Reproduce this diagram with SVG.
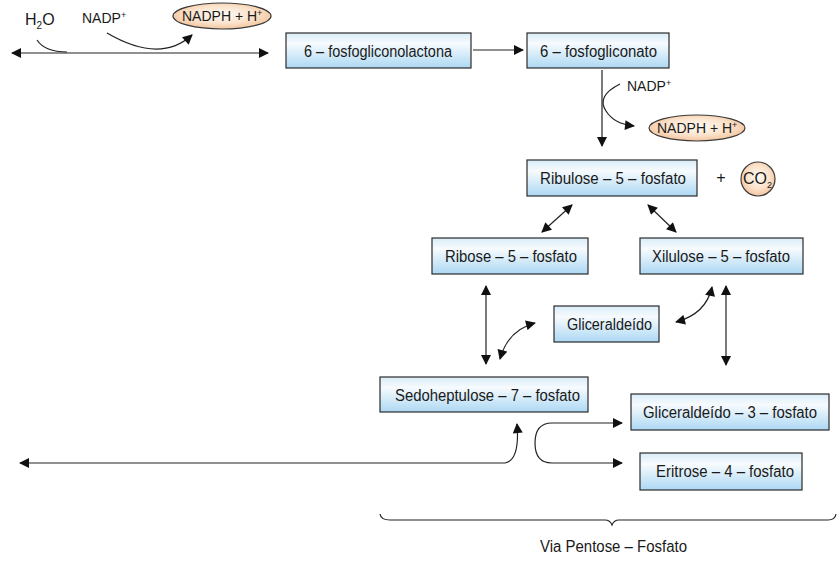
<svg xmlns="http://www.w3.org/2000/svg" width="840" height="563" viewBox="0 0 840 563">
  <style>
    text { font-family: "Liberation Sans", Arial, sans-serif; fill: #1a1a1a; font-size: 16px; }
    .lbl { text-anchor: middle; }
    .co { font-size: 14px; }
    .box { fill: url(#boxFill); stroke: #2b2b2b; stroke-width: 1.2; }
    .oval { fill: url(#ovalFill); stroke: #3a3a3a; stroke-width: 1.2; }
    .ln { fill: none; stroke: #222; stroke-width: 1.2; }
    .a2 { marker-end: url(#tip); }
    .a1 { marker-start: url(#tipS); }
  </style>
  <defs>
    <linearGradient id="boxFill" x1="0" y1="0" x2="0" y2="1">
      <stop offset="0" stop-color="#d9ecf8"/>
      <stop offset="0.3" stop-color="#f7fbfe"/>
      <stop offset="1" stop-color="#acd8f3"/>
    </linearGradient>
    <radialGradient id="ovalFill" cx="0.5" cy="0.45" r="0.6">
      <stop offset="0" stop-color="#fffaf4"/>
      <stop offset="0.55" stop-color="#fbe3cc"/>
      <stop offset="1" stop-color="#f1bf94"/>
    </radialGradient>
    <marker id="tip" viewBox="0 0 10 10" refX="9" refY="5" markerWidth="11" markerHeight="10" markerUnits="userSpaceOnUse" orient="auto">
      <path d="M0,0 L10,5 L0,10 Z" fill="#111"/>
    </marker>
    <marker id="tipS" viewBox="0 0 10 10" refX="1" refY="5" markerWidth="11" markerHeight="10" markerUnits="userSpaceOnUse" orient="auto">
      <path d="M10,0 L0,5 L10,10 Z" fill="#111"/>
    </marker>
  </defs>

  <!-- connectors -->
  <g id="connectors">
    <!-- oxidative entry -->
    <path class="ln a1 a2" d="M12,53 H268"/>
    <path class="ln" d="M37,40 Q45,52 67,52"/>
    <path class="ln a2" d="M107,33 Q160,64 192,35"/>
    <path class="ln a2" d="M473,50 H523"/>
    <!-- decarboxylation -->
    <path class="ln a2" d="M602,70 V146"/>
    <path class="ln a2" d="M620,84 Q596,96 606,111 Q614,124 634,126"/>
    <!-- isomerisations -->
    <path class="ln a1 a2" d="M572,205 L542,232"/>
    <path class="ln a1 a2" d="M648,205 L676,232"/>
    <path class="ln a1 a2" d="M486,286 V364"/>
    <path class="ln a1 a2" d="M726,286 V365"/>
    <path class="ln a1 a2" d="M535,323 Q508,330 500,359"/>
    <path class="ln a1 a2" d="M676,322 Q706,314 712,287"/>
    <!-- transaldolase / transketolase outputs -->
    <path class="ln a1 a2" d="M20,463 H505 Q520,460 517,424"/>
    <path class="ln a2" d="M535,443 Q535,423 552,423 H622"/>
    <path class="ln a2" d="M535,443 Q535,463 552,463 H622"/>
    <!-- brace -->
    <path class="ln" d="M380,514 Q381,520 390,520 H605 Q610,520 612,525 Q614,520 619,520 H828 Q835,520 836,514"/>
  </g>

  <!-- cofactors -->
  <g id="h2o"><text x="25" y="25" font-size="15">H<tspan font-size="10" dy="4">2</tspan><tspan dy="-4">O</tspan></text></g>
  <g id="nadp1"><text class="co" x="82" y="23">NADP<tspan font-size="9" dy="-5">+</tspan></text></g>
  <g id="nadph1">
    <ellipse class="oval" cx="222" cy="16" rx="49" ry="13"/>
    <text class="co" x="182" y="21">NADPH + H<tspan font-size="9" dy="-5">+</tspan></text>
  </g>
  <g id="nadp2"><text class="co" x="627" y="91">NADP<tspan font-size="9" dy="-5">+</tspan></text></g>
  <g id="nadph2">
    <ellipse class="oval" cx="697" cy="128" rx="48" ry="13"/>
    <text class="co" x="657" y="133">NADPH + H<tspan font-size="9" dy="-5">+</tspan></text>
  </g>
  <g id="plus"><text class="lbl" x="721" y="183" font-size="14">+</text></g>
  <g id="co2">
    <circle class="oval" cx="758" cy="179" r="17"/>
    <text x="743" y="184" font-size="15">CO<tspan font-size="9" dy="4">2</tspan></text>
  </g>

  <!-- metabolites -->
  <g id="fosfogliconolactona">
    <rect class="box" x="286" y="33" width="185" height="35"/>
    <text x="304" y="57" textLength="148" lengthAdjust="spacingAndGlyphs">6 – fosfogliconolactona</text>
  </g>
  <g id="fosfogliconato">
    <rect class="box" x="527" y="33" width="142" height="35"/>
    <text x="540" y="57" textLength="117" lengthAdjust="spacingAndGlyphs">6 – fosfogliconato</text>
  </g>
  <g id="ribulose5p">
    <rect class="box" x="527" y="160" width="170" height="36"/>
    <text x="540" y="184" textLength="146" lengthAdjust="spacingAndGlyphs">Ribulose – 5 – fosfato</text>
  </g>
  <g id="ribose5p">
    <rect class="box" x="432" y="238" width="156" height="36"/>
    <text x="445" y="262" textLength="132" lengthAdjust="spacingAndGlyphs">Ribose – 5 – fosfato</text>
  </g>
  <g id="xilulose5p">
    <rect class="box" x="640" y="238" width="163" height="36"/>
    <text x="652" y="262" textLength="138" lengthAdjust="spacingAndGlyphs">Xilulose – 5 – fosfato</text>
  </g>
  <g id="gliceraldeido">
    <rect class="box" x="554" y="306" width="105" height="36"/>
    <text x="567" y="330" textLength="85" lengthAdjust="spacingAndGlyphs">Gliceraldeído</text>
  </g>
  <g id="sedoheptulose7p">
    <rect class="box" x="380" y="377" width="208" height="35"/>
    <text x="395" y="401" textLength="185" lengthAdjust="spacingAndGlyphs">Sedoheptulose – 7 – fosfato</text>
  </g>
  <g id="gliceraldeido3p">
    <rect class="box" x="631" y="394" width="198" height="36"/>
    <text x="643" y="418" textLength="174" lengthAdjust="spacingAndGlyphs">Gliceraldeído – 3 – fosfato</text>
  </g>
  <g id="eritrose4p">
    <rect class="box" x="640" y="453" width="162" height="37"/>
    <text x="656" y="477" textLength="138" lengthAdjust="spacingAndGlyphs">Eritrose – 4 – fosfato</text>
  </g>

  <g id="caption"><text x="540" y="552" textLength="147" lengthAdjust="spacingAndGlyphs">Via Pentose – Fosfato</text></g>
</svg>
